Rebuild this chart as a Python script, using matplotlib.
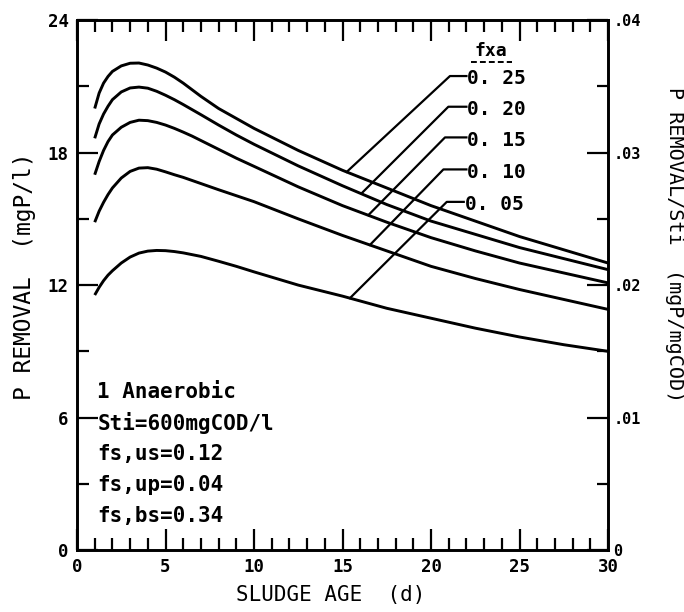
"""P removal vs sludge age for several anaerobic mass fractions (fxa)."""
import matplotlib

matplotlib.use("Agg")
import matplotlib.pyplot as plt
from matplotlib.ticker import FixedLocator, MultipleLocator

plt.rcParams.update(
    {
        "font.family": "DejaVu Sans Mono",
        "font.weight": "bold",
        "axes.linewidth": 1.9,
    }
)

# sludge age (d) at which each curve was read
sludge_age = [1.0, 1.25, 1.5, 1.75, 2.0, 2.5, 3.0, 3.5, 4.0, 4.5, 5.0, 5.5, 6.0,
              6.5, 7.0, 8.0, 9.0, 10.0, 12.5, 15.0, 17.5, 20.0, 22.5, 25.0,
              27.5, 30.0]

# P removal (mgP/l) per anaerobic mass fraction
p_removal_025 = [20.0, 20.7, 21.15, 21.45, 21.68, 21.93, 22.05, 22.06, 21.97,
                 21.83, 21.65, 21.42, 21.15, 20.85, 20.55, 20.0, 19.55, 19.1,
                 18.1, 17.2, 16.4, 15.6, 14.9, 14.2, 13.6, 13.0]
p_removal_020 = [18.65, 19.3, 19.75, 20.1, 20.4, 20.75, 20.93, 20.97, 20.92,
                 20.78, 20.6, 20.4, 20.18, 19.95, 19.72, 19.25, 18.8, 18.38,
                 17.4, 16.5, 15.65, 14.9, 14.3, 13.7, 13.2, 12.7]
p_removal_015 = [17.0, 17.6, 18.1, 18.5, 18.8, 19.15, 19.37, 19.47, 19.45,
                 19.37, 19.25, 19.1, 18.93, 18.75, 18.55, 18.15, 17.75, 17.38,
                 16.45, 15.6, 14.85, 14.15, 13.55, 13.0, 12.55, 12.1]
p_removal_010 = [14.85, 15.35, 15.75, 16.1, 16.4, 16.85, 17.15, 17.3, 17.32,
                 17.25, 17.13, 17.0, 16.88, 16.74, 16.6, 16.32, 16.05, 15.78,
                 15.0, 14.25, 13.55, 12.85, 12.3, 11.8, 11.35, 10.9]
p_removal_005 = [11.55, 11.9, 12.2, 12.45, 12.65, 13.0, 13.27, 13.45, 13.54,
                 13.57, 13.56, 13.52, 13.46, 13.38, 13.3, 13.08, 12.85, 12.6,
                 12.0, 11.5, 10.95, 10.5, 10.05, 9.65, 9.3, 9.0]

fxa_labels = ["0. 25", "0. 20", "0. 15", "0. 10", "0. 05"]
curves = [p_removal_025, p_removal_020, p_removal_015, p_removal_010, p_removal_005]

sti = 600.0  # mgCOD/l, scales the right-hand axis

# leader lines: point on curve -> elbow -> end of horizontal stub
leaders = [
    ((15.24, 17.13), (21.07, 21.47), 22.0),
    ((16.08, 16.16), (20.98, 20.08), 22.0),
    ((16.46, 15.17), (20.79, 18.69), 22.0),
    ((16.55, 13.82), (20.70, 17.24), 22.0),
    ((15.42, 11.41), (20.89, 15.77), 21.85),
]

notes = ["1 Anaerobic", "Sti=600mgCOD/l", "fs,us=0.12", "fs,up=0.04", "fs,bs=0.34"]

fig = plt.figure(figsize=(6.84, 6.12), dpi=100)
ax = fig.add_axes([0.1126, 0.1013, 0.7763, 0.8657])

for values in curves:
    ax.plot(sludge_age, values, color="black", linewidth=2.1,
            solid_joinstyle="round", solid_capstyle="butt")

for label, (start, elbow, end_x) in zip(fxa_labels, leaders):
    ax.plot([start[0], elbow[0], end_x], [start[1], elbow[1], elbow[1]],
            color="black", linewidth=1.6)
    ax.text(end_x + 0.05, elbow[1] - 0.12, label, fontsize=14, va="center", ha="left")

ax.text(23.4, 22.6, "fxa", fontsize=13, ha="center", va="center")
ax.plot([22.25, 24.55], [22.12, 22.12], color="black", linewidth=1.4,
        linestyle=(0, (3, 1.6)))

for i, note in enumerate(notes):
    ax.text(1.15, 7.16 - i * 1.4, note, fontsize=15, ha="left", va="center")

ax.set_xlim(0, 30)
ax.set_ylim(0, 24)
ax.xaxis.set_major_locator(MultipleLocator(5))
ax.xaxis.set_minor_locator(MultipleLocator(1))
ax.yaxis.set_major_locator(MultipleLocator(6))
ax.yaxis.set_minor_locator(MultipleLocator(3))
ax.tick_params(which="both", direction="in", top=True, right=False, width=1.6,
               labelsize=12.5, pad=6)
ax.tick_params(which="major", length=15)
ax.tick_params(which="minor", length=8.5)

ax.set_xlabel("SLUDGE AGE  (d)", fontsize=15, weight="normal", va="center")
ax.set_ylabel("P REMOVAL  (mgP/l)", fontsize=16.5, weight="normal", va="center")
ax.xaxis.set_label_coords(0.478, -0.085)
ax.yaxis.set_label_coords(-0.098, 0.517)

ax2 = ax.twinx()
ax2.set_ylim(0, 24 / sti)
ax2.yaxis.set_major_locator(FixedLocator([0, 0.01, 0.02, 0.03, 0.04]))
ax2.yaxis.set_minor_locator(MultipleLocator(0.005))
ax2.set_yticklabels(["0", ".01", ".02", ".03", ".04"])
ax2.tick_params(which="both", direction="in", width=1.6, labelsize=11, pad=4)
ax2.tick_params(which="major", length=15)
ax2.tick_params(which="minor", length=8)
ax2.set_ylabel("P REMOVAL/Sti  (mgP/mgCOD)", fontsize=14.5, weight="normal",
               rotation=270, va="center")
ax2.yaxis.set_label_coords(1.126, 0.577)

fig.savefig("out.png", dpi=100)
